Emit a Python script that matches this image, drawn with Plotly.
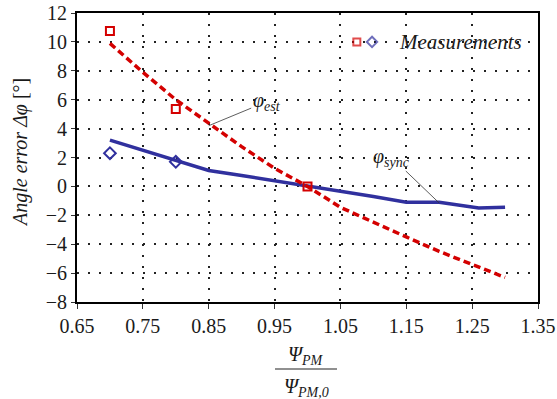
import plotly.graph_objects as go

# ---- data ----
ratio = [0.70, 0.75, 0.80, 0.85, 0.90, 0.95, 1.00, 1.05, 1.10, 1.15, 1.20, 1.26, 1.30]
phi_est = [9.9, 7.9, 6.0, 4.35, 2.75, 1.25, 0.0, -1.45, -2.5, -3.5, -4.5, -5.6, -6.3]
phi_sync = [3.2, 2.5, 1.85, 1.1, 0.75, 0.4, 0.05, -0.3, -0.7, -1.1, -1.1, -1.5, -1.45]

meas_x_red = [0.70, 0.80, 1.00]
meas_red = [10.75, 5.35, 0.0]
meas_x_blue = [0.70, 0.80]
meas_blue = [2.3, 1.7]

x_ticks = [0.65, 0.75, 0.85, 0.95, 1.05, 1.15, 1.25, 1.35]
y_ticks = [-8, -6, -4, -2, 0, 2, 4, 6, 8, 10, 12]

RED = "#d40000"
BLUE = "#30309e"
SERIF = "Liberation Serif"
TXT = "#1a1a1a"

fig = go.Figure()
fig.add_trace(go.Scatter(x=ratio, y=phi_sync, mode="lines",
                         line=dict(color=BLUE, width=3.5), showlegend=False))
fig.add_trace(go.Scatter(x=ratio, y=phi_est, mode="lines",
                         line=dict(color=RED, width=3.5, dash="7px,4px"), showlegend=False))
fig.add_trace(go.Scatter(x=meas_x_blue, y=meas_blue, mode="markers",
                         marker=dict(symbol="diamond-open", size=9, color=BLUE, line=dict(width=2)),
                         showlegend=False))
fig.add_trace(go.Scatter(x=meas_x_red, y=meas_red, mode="markers",
                         marker=dict(symbol="square-open", size=8, color=RED, line=dict(width=2)),
                         showlegend=False))

# legend glyphs drawn on an invisible overlay axis (paper-like 0..1)
fig.add_trace(go.Scatter(x=[0.607, 0.640], y=[0.9, 0.9], mode="markers", xaxis="x2", yaxis="y2",
                         marker=dict(symbol=["square-open", "diamond-open"], size=[7, 8],
                                     color=[RED, BLUE], line=dict(width=2)),
                         showlegend=False, hoverinfo="skip"))

fig.update_layout(
    width=557, height=399,
    margin=dict(l=77, r=19, t=13, b=97),
    plot_bgcolor="white", paper_bgcolor="white",
    font=dict(family=SERIF, size=19, color=TXT),
    xaxis=dict(range=[0.65, 1.35], tickvals=x_ticks, ticktext=[f"{v:.2f}" for v in x_ticks],
               showgrid=True, gridcolor="#222222", gridwidth=2, griddash="2px,9px",
               showline=True, mirror=True, linecolor="black", linewidth=2,
               ticks="outside", ticklen=5, tickcolor="#333", zeroline=False, automargin=False,
               tickfont=dict(family=SERIF, size=20, color=TXT)),
    yaxis=dict(range=[-8, 12], tickvals=y_ticks,
               showgrid=True, gridcolor="#222222", gridwidth=2, griddash="2px,9px",
               showline=True, mirror=True, linecolor="black", linewidth=2,
               ticks="outside", ticklen=4, tickcolor="#333", zeroline=False, automargin=False,
               tickfont=dict(family=SERIF, size=20, color=TXT)),
    xaxis2=dict(range=[0, 1], overlaying="x", visible=False, fixedrange=True, automargin=False),
    yaxis2=dict(range=[0, 1], overlaying="y", visible=False, fixedrange=True, automargin=False),
    showlegend=False,
)

ann = []
# legend text
ann.append(dict(xref="paper", yref="paper", x=0.695, y=0.9, xanchor="left", yanchor="middle",
                text="<i>Measurements</i>", showarrow=False,
                font=dict(family=SERIF, size=21, color=TXT)))
# curve labels
ann.append(dict(xref="x", yref="y", x=0.85, y=4.2, ax=58, ay=-24, axref="pixel", ayref="pixel",
                text="<i>φ<sub>est</sub></i>", showarrow=True, arrowhead=0, arrowwidth=0.8,
                arrowcolor="#333", font=dict(family=SERIF, size=20, color=TXT)))
ann.append(dict(xref="x", yref="y", x=1.2, y=-1.15, ax=-48, ay=-46, axref="pixel", ayref="pixel",
                text="<i>φ<sub>sync</sub></i>", showarrow=True, arrowhead=0, arrowwidth=0.8,
                arrowcolor="#333", font=dict(family=SERIF, size=20, color=TXT)))
# y-axis title
ann.append(dict(xref="paper", yref="paper", x=(20 - 77) / 461, y=(302 - 153) / 289,
                xanchor="center", yanchor="middle", textangle=-90,
                text="<i>Angle error Δφ</i> [°]", showarrow=False,
                font=dict(family=SERIF, size=20, color=TXT)))
# x-axis title as fraction
ann.append(dict(xref="paper", yref="paper", x=(306 - 77) / 461, y=(302 - 355) / 289,
                xanchor="center", yanchor="middle",
                text="<i>Ψ<sub>PM</sub></i>", showarrow=False,
                font=dict(family=SERIF, size=20, color=TXT)))
ann.append(dict(xref="paper", yref="paper", x=(306 - 77) / 461, y=(302 - 387) / 289,
                xanchor="center", yanchor="middle",
                text="<i>Ψ<sub>PM,0</sub></i>", showarrow=False,
                font=dict(family=SERIF, size=20, color=TXT)))
fig.update_layout(annotations=ann)

fig.add_shape(type="line", xref="paper", yref="paper",
              x0=(275 - 77) / 461, x1=(337 - 77) / 461,
              y0=(302 - 369) / 289, y1=(302 - 369) / 289,
              line=dict(color="#222", width=1.2))

fig.write_html("out.html")
